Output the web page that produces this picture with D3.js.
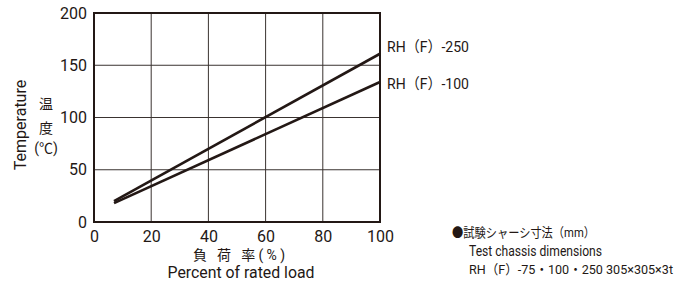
<!DOCTYPE html>
<html>
<head>
<meta charset="utf-8">
<script src="https://cdn.jsdelivr.net/npm/d3@7"></script>
<style>
  body { margin: 0; background: #fff; }
  svg text { font-family: Roboto, "Noto Sans CJK JP", sans-serif; fill: #231815; }
</style>
</head>
<body>
<svg id="chart"></svg>
<script>
// datos
var xTicks = [0, 20, 40, 60, 80, 100];
var yTicks = [0, 50, 100, 150, 200];
var loads = [7, 100];
var series = ["RH（F）-250", "RH（F）-100"];
var temp250 = [20, 161];
var temp100 = [18, 134];
var notes = ["●試験シャーシ寸法（mm）", "Test chassis dimensions", "RH（F）-75・100・250 305×305×3t"];

var W = 680, H = 282;
var margin = { top: 13, left: 94 };
var width = 380 - margin.left;
var height = 222 - margin.top;
var ink = "#231815";

var svg = d3.select("#chart").attr("width", W).attr("height", H);
var g = svg.append("g").attr("transform", "translate(" + margin.left + "," + margin.top + ")");

var x = d3.scaleLinear().domain([0, 100]).range([0, width]);
var y = d3.scaleLinear().domain([0, 200]).range([height, 0]);

// rejilla
g.selectAll(".vgrid").data(xTicks.slice(1, -1)).enter().append("line")
  .attr("x1", function(d) { return x(d); }).attr("x2", function(d) { return x(d); })
  .attr("y1", 0).attr("y2", height)
  .attr("stroke", "#3a3330").attr("stroke-width", 1);
g.selectAll(".hgrid").data(yTicks.slice(1, -1)).enter().append("line")
  .attr("y1", function(d) { return y(d); }).attr("y2", function(d) { return y(d); })
  .attr("x1", 0).attr("x2", width)
  .attr("stroke", "#3a3330").attr("stroke-width", 1);

// marco
g.append("rect").attr("x", 0).attr("y", 0).attr("width", width).attr("height", height)
  .attr("fill", "none").attr("stroke", ink).attr("stroke-width", 2);

// ejes (solo etiquetas)
var xAxis = d3.axisBottom(x).tickValues(xTicks).tickSize(0).tickPadding(0);
var yAxis = d3.axisLeft(y).tickValues(yTicks).tickSize(0).tickPadding(7);
g.append("g").attr("transform", "translate(0," + height + ")").call(xAxis)
  .call(function(s) { s.select(".domain").remove(); })
  .selectAll("text").style("font-size", "16px").attr("dy", null).attr("y", 20);
g.append("g").call(yAxis)
  .call(function(s) { s.select(".domain").remove(); })
  .selectAll("text").style("font-size", "16px");

// lineas
var line = d3.line().x(function(d) { return x(d[0]); }).y(function(d) { return y(d[1]); });
[temp250, temp100].forEach(function(vals) {
  g.append("path").datum(loads.map(function(l, i) { return [l, vals[i]]; }))
    .attr("d", line).attr("fill", "none").attr("stroke", ink).attr("stroke-width", 2.6);
});

// etiquetas de series
svg.append("text").attr("x", 387).attr("y", 52).style("font-size", "15px")
  .attr("textLength", 82).attr("lengthAdjust", "spacingAndGlyphs").text(series[0]);
svg.append("text").attr("x", 387).attr("y", 89).style("font-size", "15px")
  .attr("textLength", 82).attr("lengthAdjust", "spacingAndGlyphs").text(series[1]);

// etiquetas de ejes
svg.append("text").attr("transform", "translate(26,125) rotate(-90)")
  .attr("text-anchor", "middle").style("font-size", "16px").text("Temperature");
svg.append("text").attr("x", 46).attr("y", 109).attr("text-anchor", "middle").style("font-size", "14px").text("温");
svg.append("text").attr("x", 46).attr("y", 133).attr("text-anchor", "middle").style("font-size", "14px").text("度");
svg.append("text").attr("x", 46).attr("y", 153).attr("text-anchor", "middle").style("font-size", "14px").text("(℃)");

svg.append("text").attr("x", 239).attr("y", 260).attr("text-anchor", "middle").style("font-size", "14px")
  .attr("textLength", 92).attr("lengthAdjust", "spacing").text("負 荷 率(%)");
svg.append("text").attr("x", 241).attr("y", 278).attr("text-anchor", "middle").style("font-size", "16px")
  .attr("textLength", 147).attr("lengthAdjust", "spacingAndGlyphs").text("Percent of rated load");

// notas
svg.append("text").attr("x", 452).attr("y", 237).style("font-size", "13px")
  .attr("textLength", 143).attr("lengthAdjust", "spacingAndGlyphs").text(notes[0]);
svg.append("text").attr("x", 469).attr("y", 256).style("font-size", "14px")
  .attr("textLength", 133).attr("lengthAdjust", "spacingAndGlyphs").text(notes[1]);
svg.append("text").attr("x", 469).attr("y", 274).style("font-size", "13px")
  .attr("textLength", 204).attr("lengthAdjust", "spacingAndGlyphs").text(notes[2]);
</script>
</body>
</html>
